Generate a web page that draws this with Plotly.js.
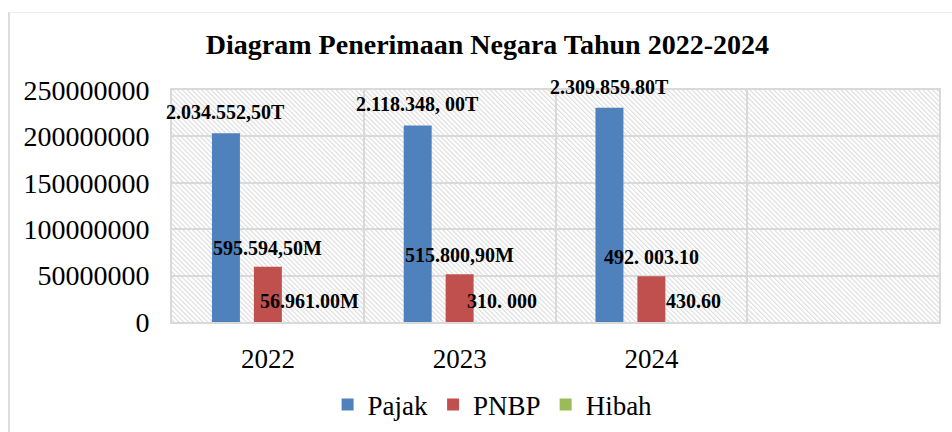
<!DOCTYPE html>
<html>
<head>
<meta charset="utf-8">
<script src="https://cdn.plot.ly/plotly-3.0.1.min.js"></script>
<style>
  html, body { margin: 0; padding: 0; background: #fff; }
  #wrap { position: relative; width: 952px; height: 432px; overflow: hidden; }
  #chart { width: 952px; height: 432px; }
  #frame { position: absolute; left: 8px; top: 12px; width: 960px; height: 440px;
           border-left: 2px solid #dcdcdc; border-top: 1px solid #ececec; pointer-events: none; }
</style>
</head>
<body>
<div id="wrap">
  <div id="chart"></div>
  <div id="frame"></div>
</div>
<script>
// ---- data ----
const categories = ['2022', '2023', '2024', ' '];
const pajak = [203455250, 211834800, 230985980, null];
const pnbp  = [59559450, 51580090, 49200310, null];
const hibah = [56961, 310, 430.6, null];
const pajakLabels = ['2.034.552,50T', '2.118.348, 00T', '2.309.859.80T'];
const pnbpLabels  = ['595.594,50M', '515.800,90M', '492. 003.10'];
const hibahLabels = ['56.961.00M', '310. 000', '430.60'];
const seriesNames = ['Pajak', 'PNBP', 'Hibah'];

const FONT = 'Liberation Serif, Times New Roman, serif';
const colors = ['#4F81BD', '#C0504D', '#9BBB59'];
const seriesValues = [pajak, pnbp, hibah];
const seriesLabels = [pajakLabels, pnbpLabels, hibahLabels];

const traces = seriesValues.map((vals, i) => ({
  type: 'bar',
  name: seriesNames[i],
  x: categories,
  y: vals,
  marker: { color: colors[i], line: { width: 0 } },
  hoverinfo: 'x+y+name'
}));

// data labels built from the arrays above (category axis: x given as category index)
const slot = 42; // px offset between grouped bars
const annotations = [];
seriesLabels.forEach((labels, i) => {
  labels.forEach((txt, j) => {
    annotations.push({
      x: j, y: seriesValues[i][j], xref: 'x', yref: 'y',
      text: '<b>' + txt + '</b>', showarrow: false,
      xanchor: 'center', yanchor: 'bottom',
      xshift: (i - 1) * slot, yshift: i === 1 ? 6 : 8,
      font: { family: FONT, size: 20, color: '#000' }
    });
  });
});

const hatch = "<svg xmlns='http://www.w3.org/2000/svg' width='767' height='232' viewBox='0 0 767 232' preserveAspectRatio='none'>" +
  "<defs><pattern id='h' width='3.4' height='3.4' patternUnits='userSpaceOnUse' patternTransform='rotate(-45)'>" +
  "<rect width='3.4' height='3.4' fill='#ffffff'/>" +
  "<line x1='0.6' y1='0' x2='0.6' y2='3.4' stroke='#d8d8d8' stroke-width='1'/></pattern></defs>" +
  "<rect width='767' height='232' fill='url(%23h)'/></svg>";

const layout = {
  width: 952, height: 432,
  margin: { l: 172, r: 13, t: 90, b: 110, autoexpand: false },
  paper_bgcolor: '#ffffff',
  plot_bgcolor: 'rgba(0,0,0,0)',
  font: { family: FONT, color: '#000' },
  title: {
    text: '<b>Diagram Penerimaan Negara Tahun 2022-2024</b>',
    font: { family: FONT, size: 28, color: '#000' },
    xref: 'container', x: 0.512, xanchor: 'center',
    yref: 'container', y: 0.897, yanchor: 'middle'
  },
  barmode: 'group',
  bargap: 0.344,
  bargroupgap: 0.333,
  showlegend: true,
  legend: {
    orientation: 'h', x: 0.418, xanchor: 'center', y: -0.358, yanchor: 'middle',
    font: { family: FONT, size: 27, color: '#000' },
    traceorder: 'normal', itemclick: false
  },
  xaxis: {
    type: 'category',
    categoryorder: 'array', categoryarray: categories,
    range: [-0.5, 3.5],
    tickson: 'boundaries',
    ticks: '', ticklabelstandoff: 12,
    showgrid: true, gridcolor: '#d9d9d9', gridwidth: 2,
    showline: true, linecolor: '#d9d9d9', linewidth: 2, mirror: true,
    tickfont: { family: FONT, size: 27, color: '#000' },
    fixedrange: true
  },
  yaxis: {
    range: [0, 250000000], dtick: 50000000, tick0: 0,
    tickformat: 'd',
    ticks: '', ticklabelstandoff: 15,
    showgrid: true, gridcolor: '#d9d9d9', gridwidth: 2,
    zeroline: false,
    showline: true, linecolor: '#d9d9d9', linewidth: 2, mirror: true,
    tickfont: { family: FONT, size: 28, color: '#000' },
    fixedrange: true
  },
  images: [{
    source: 'data:image/svg+xml;charset=utf-8,' + hatch.replace(/</g, '%3C').replace(/>/g, '%3E').replace(/#(?!h\))/g, '%23'),
    xref: 'paper', yref: 'paper', x: 0, y: 1, sizex: 1, sizey: 1,
    xanchor: 'left', yanchor: 'top', sizing: 'stretch', layer: 'below'
  }],
  annotations: annotations
};

Plotly.newPlot('chart', traces, layout, { displayModeBar: false, staticPlot: true });
</script>
</body>
</html>
